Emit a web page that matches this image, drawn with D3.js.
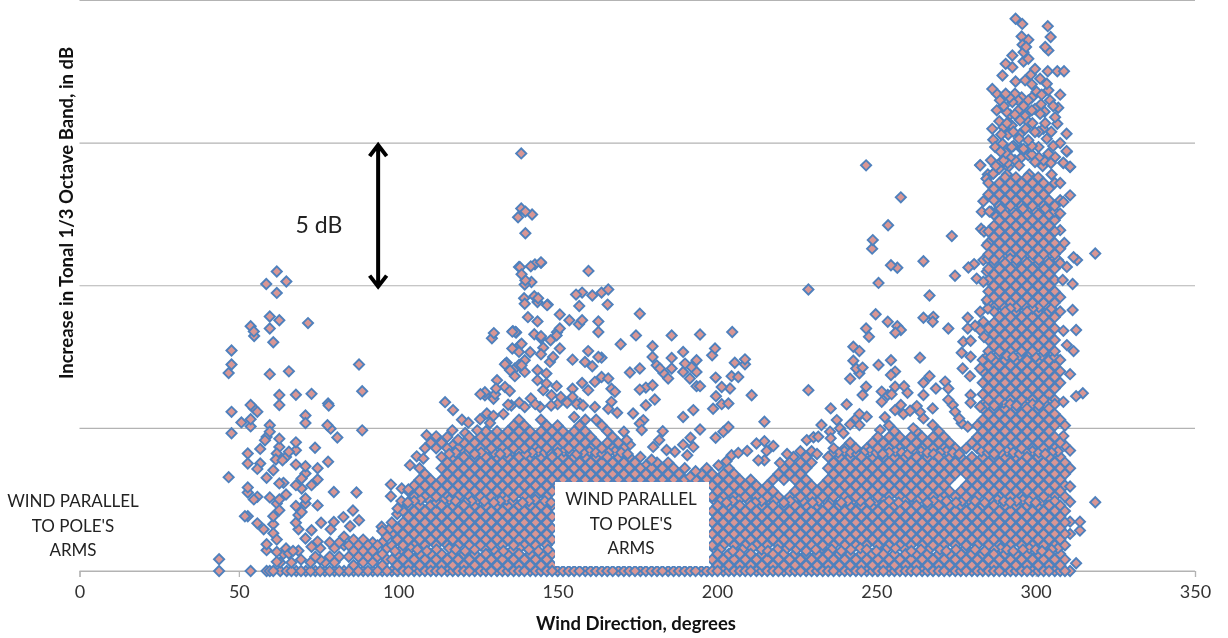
<!DOCTYPE html>
<html>
<head>
<meta charset="utf-8">
<script src="https://cdn.jsdelivr.net/npm/d3@7"></script>
<style>
	html, body { margin: 0; padding: 0; background: #fff; overflow: hidden; }
	text { font-family: Lato, "Open Sans", sans-serif; }
	svg { filter: blur(0.45px); }
</style>
</head>
<body>
<div id="chart"></div>
<script>
var xTicks = [0, 50, 100, 150, 200, 250, 300, 350];
var gridLevels = [0, 5, 10, 15, 20];
var noteLines = ["WIND PARALLEL", "TO POLE'S", "ARMS"];

// loose points read one by one, [direction, dB]
var sparse40to100 = [[61.9,10.5],[58.6,10.06],[64.9,10.15],[61.9,9.75],[59.7,8.92],[62.7,8.79],[71.7,8.69],[53.7,8.58],[54.7,8.4],[54.8,8.24],[59.7,8.5],[60.8,8.02],[47.7,7.73],[47.7,7.24],[46.8,6.94],[59.7,6.9],[65.7,7],[87.7,7.24],[88.7,6.3],[62.7,6.17],[67.9,6.18],[72.8,6.21],[62.7,5.82],[53.7,5.82],[78,5.87],[78.2,5.8],[47.7,5.58],[55.8,5.58],[54.7,5.7],[70.9,5.45],[53.7,5.32],[50.8,5.21],[70.9,5.19],[53.7,5.07],[59.7,5.11],[77.8,5.11],[78.8,4.99],[88.7,4.93],[47.7,4.83],[59.7,4.88],[58.7,4.7],[58.2,4.58],[62.7,4.64],[80.9,4.68],[67.9,4.51],[62.7,4.35],[56.7,4.28],[73.9,4.32],[67.9,4.23],[61.9,4.12],[52.8,4.12],[65.7,4.18],[64.8,4],[61.6,3.91],[63.7,3.88],[52.8,3.77],[56.7,3.77],[55.8,3.58],[67.9,3.73],[70.9,3.67],[78,3.83],[74.7,3.6],[60.8,3.53],[46.8,3.29],[58.7,3.27],[70.9,3.42],[69.7,3.24],[74.7,3.21],[62.7,3.07],[64,3.09],[67.9,3.01],[72.8,3.01],[69.7,2.89],[52.8,2.93],[52.8,2.75],[79.8,2.77],[86.9,2.75],[64.8,2.68],[55.8,2.6],[54.7,2.51],[59.7,2.58],[62.7,2.51],[61.9,2.37],[70.9,2.54],[70.9,2.37],[67.9,2.28],[74.7,2.3],[62.7,2.13],[69.7,2.07],[68.7,1.96],[60.8,1.92],[51.9,1.92],[52.8,1.92],[85.8,2.12],[82.8,1.89],[87.7,1.78],[55.8,1.67],[60.8,1.64],[67.9,1.69],[75.8,1.69],[79.8,1.72],[84.9,1.57],[57.8,1.46],[68.7,1.46],[72.8,1.43],[78.8,1.46],[60.8,1.32],[61.9,1.1],[70.9,1.14],[58.7,.94],[74.7,1.03],[72.8,.85],[58.7,.73],[64.8,.79],[68.7,.71],[61.9,.67],[65.7,.61],[43.8,.41],[61.9,.32],[43.8,0],[53.7,0],[58.7,0],[59.7,0],[60.8,0],[63,0],[64,.6],[67,.7],[63,.3]];

var sparse100to137 = [[138.6,14.64],[138.6,12.71],[142,12.5],[137.6,12.4],[139.9,12.6],[139.9,11.84],[144.8,10.82],[142.9,10.75],[138.2,10.65],[139.9,10.19],[139.5,9.56],[143.9,9.56],[146.7,9.32],[140.7,8.9],[130,8.34],[129.4,8.16],[136,8.41],[137,8.36],[144.8,8.16],[149.8,8.37],[138.2,7.92],[141.4,7.67],[133.5,7.25],[137.9,7.22],[135.1,7.04],[127.2,6.27],[130.4,6.2],[125.8,6.2],[114.7,5.92],[117.2,5.64],[131,6.69],[127.2,6.16],[130.7,6.4],[129.9,6.04],[127.8,5.52],[129.9,5.44],[125.7,5.32],[128.8,5.19],[117,4.93],[121,4.84],[124.8,4.93],[108.9,4.76],[111.9,4.72],[105.8,4.02],[103.7,3.71],[107.9,3.94],[97.7,3.03],[97.7,2.62],[99.8,2.19],[101.1,2.89],[103.2,2.86],[94.8,1.55],[97.4,1.49],[133,5.5],[135.5,5.8],[122,5.2],[120,5.3]];

var sparse137to225 = [[137.9,10.66],[141.6,10.68],[144.8,10.8],[138.7,10.4],[139.7,10.04],[141.8,10.13],[159.7,10.52],[155.8,9.69],[157.7,9.76],[160.9,9.66],[163.8,9.76],[165.9,9.87],[142.7,9.63],[139.7,9.37],[143.7,9.43],[146.9,9.34],[156.8,9.29],[165.7,9.34],[150.7,8.99],[175.8,9.02],[143.7,8.75],[153.7,8.79],[157.7,8.79],[156.7,8.65],[162.8,8.75],[150.7,8.5],[162.8,8.38],[135.8,8.39],[136.8,8.38],[142.7,8.3],[144.8,8.23],[147.8,8.09],[149.7,8.26],[174.6,8.26],[185.8,8.26],[194.7,8.29],[204.8,8.38],[169.8,7.95],[138.7,7.97],[135.8,7.8],[145.5,7.83],[150.7,7.8],[179.8,7.88],[199.4,7.8],[189.4,7.68],[137.9,7.68],[144.8,7.6],[159.6,7.71],[198.5,7.56],[148.6,7.5],[162.8,7.5],[179.8,7.5],[185.8,7.47],[163.8,7.48],[154.7,7.41],[158.6,7.33],[147.6,7.33],[160.9,7.18],[134,7.3],[139.7,7.39],[193.6,7.39],[208.8,7.42],[205.6,7.3],[208.8,7.25],[190,7.27],[138.7,7.21],[181.1,7.21],[175.8,7.1],[172.7,6.96],[182.1,7.1],[192,7.15],[185.8,7.1],[136.6,7.1],[139.7,6.98],[143.7,7.04],[183.2,6.94],[189.4,6.98],[193.6,6.98],[136.6,6.83],[146.5,6.92],[199.6,6.78],[206.7,6.8],[204.6,6.83],[184.7,6.75],[191.5,6.75],[143.7,6.69],[161.7,6.63],[163.8,6.8],[165.9,6.75],[157.7,6.59],[133.5,6.45],[146.5,6.57],[149.7,6.48],[193.6,6.48],[194.7,6.48],[201.5,6.45],[204.1,6.4],[175.8,6.36],[177.7,6.43],[179.8,6.51],[166.9,6.39],[154.7,6.39],[159.6,6.34],[135,6.31],[145.5,6.34],[168,6.28],[210.9,6.16],[199.7,6.13],[148.1,6.16],[154.7,6.1],[141.6,6.05],[180.5,6.01],[151,6.1],[166.9,5.93],[177.7,5.81],[192.6,5.64],[198.8,5.69],[201.5,5.85],[203.6,5.87],[157,5.87],[161.7,5.75],[165.9,5.69],[134.5,5.83],[139.7,5.75],[144.5,5.75],[173.7,5.52],[168.7,5.55],[189.4,5.4],[214.9,5.23],[176.9,5.29],[175.8,5.17],[203.6,5.05],[194.7,4.96],[202,4.88],[183,4.9],[176.4,4.94],[170.8,4.88],[199.6,4.67],[171.7,4.59],[181.9,4.59],[191.7,4.67],[189.4,4.43],[172.7,4.43],[180,4.35],[192.6,4.35],[212.4,4.47],[214.9,4.55],[217.7,4.38],[215.6,4.21],[213,3.88],[214.9,3.88],[190.7,4.06],[184.2,4.24],[186.8,4.18],[206.7,4.14],[209.5,4.21],[204.6,4.06],[224,4],[219.8,3.79],[222,4.1],[200.5,3.7],[203,3.85]];

var sparse225to285 = [[246.8,14.22],[257.7,13.1],[253.7,12.12],[248.9,11.6],[248.7,11.3],[273.7,11.74],[254.6,10.72],[256.6,10.63],[264.8,10.86],[274.7,10.35],[278.9,10.64],[280.7,10.76],[250.7,10.1],[228.7,9.87],[266.7,9.66],[249.8,9],[253.6,8.74],[264.8,8.88],[267.9,8.91],[267.7,8.74],[272.6,8.5],[246.8,8.5],[256.6,8.58],[257.7,8.45],[256,8.35],[247.7,8.21],[278.7,8.88],[278.7,8.5],[279.6,8.07],[277.3,8.04],[242.8,7.86],[244.7,7.71],[276.8,7.65],[279.6,7.51],[263.7,7.48],[254.6,7.39],[242.8,7.37],[250.7,7.22],[245.7,7.13],[243.7,7.1],[244.7,6.93],[241.8,6.74],[254.6,6.87],[255.9,6.99],[266.7,6.83],[264.8,6.6],[271.6,6.64],[277.1,7.1],[279.4,6.83],[282.6,7.1],[246.8,6.46],[255.9,6.46],[258.7,6.48],[268.7,6.4],[272.6,6.4],[228.7,6.34],[251.7,6.29],[254.8,6.2],[253.6,6.17],[259.8,6.25],[245.7,6.17],[264.8,6.17],[279.6,6.17],[251.7,5.93],[257.7,5.82],[240.7,5.84],[235.7,5.7],[262.7,5.78],[267.7,5.7],[272.6,6],[274,5.82],[279.6,5.9],[255.9,5.64],[263.7,5.58],[274.7,5.58],[282.6,5.76],[244.7,5.5],[247,5.41],[260.6,5.62],[258.5,5.5],[252.7,5.39],[264.8,5.35],[237.6,5.29],[243.7,5.35],[276,5.35],[232.8,5.12],[241.8,5.14],[267.7,5.12],[244.7,5.12],[276.8,5.18],[278.7,5.06],[235.5,4.88],[238.6,5],[251.2,4.94],[261.6,5],[228.2,4.59],[230.3,4.69],[231.8,4.71],[235.7,4.65],[239.7,4.83]];

var sparseTowerEdges = [[318.7,11.13],[318.7,2.41],[311.9,11],[309.8,10.66],[313,10.9],[311.6,10.06],[311.6,9.15],[312.7,8.45],[308.7,8.42],[309.8,7.92],[311.9,7.71],[310.8,6.9],[314.8,6.23],[312.7,6.13],[308.7,5.93],[308.7,4.73],[310.8,4.22],[310.8,3.6],[310.8,2.96],[310.8,2.43],[310.8,1.73],[313.9,1.73],[313.9,1.42],[310.8,1.3],[312.7,.27],[310.8,0],[310.8,13.17],[308.7,12.94],[310.8,14.17],[308.7,14.3],[309.8,14.7],[307.7,13.6],[307.7,11.95],[307.7,12.53],[309,11.5],[308.5,10.2],[282.6,14.22],[284.7,13.76],[286.7,13.93],[283.6,12.96],[283.1,12.59],[285.5,12.6],[282.9,12],[283.8,11.9],[284.7,11.42],[283.6,10.9],[284.7,10.5],[281.5,10.25],[283.6,10.14],[284.7,9.5],[282.6,9.09],[283.6,8.74],[282.6,8.45],[283.8,8.2],[281,8.6]];

var towerTop = [[293.7,19.36],[295.8,19.18],[303.8,19.1],[295.6,18.74],[304.7,18.72],[297.7,18.62],[295.9,18.45],[297,18.37],[303,18.37],[304,18.25],[292.7,18.07],[296.2,18.19],[297.7,17.96],[296.2,17.86],[290.6,17.78],[292.7,17.66],[299.8,17.6],[303.8,17.52],[306.8,17.52],[308.9,17.52],[289.6,17.37],[298.5,17.4],[301.4,17.26],[293.7,17.16],[296.7,17.2],[298.8,17.06],[303.5,17.08],[286.4,16.9],[287.8,16.73],[290.6,16.73],[293.5,16.73],[295.6,16.6],[298.8,16.6],[301.9,16.7],[304,16.85],[307.7,16.7],[292.7,16.44],[297.7,16.5],[304.5,16.5],[287.8,16.15],[290.9,16.09],[294.9,16.18],[298.8,16.15],[301.7,16.36],[307.1,16.24],[296.7,15.95],[293.5,16],[301.4,16.03],[306.1,15.91],[288.6,15.77],[292.5,15.62],[297.7,15.74],[295.1,15.8],[306.8,15.68],[302.4,15.5],[286.4,15.5],[289.9,15.56],[309.7,15.33],[291.4,15.3],[299.8,15.39],[286.7,15.12],[294.8,15.15],[297.7,15.1],[303.5,15.15],[307.7,15],[289.6,14.98],[300.9,14.86],[287.3,14.86],[292.5,14.86],[296.2,14.8],[309.7,14.72],[290.6,14.65],[297.7,14.57],[304,14.63],[306.1,14.51],[282.6,14.23],[308.7,14.31],[310.8,14.16],[294.8,14.22],[299.8,14.34],[291.4,14.16],[286.7,13.93],[284.6,13.75],[288.7,14.3],[302.2,14.2],
	[288.5,14.1],[290,14.4],[292,14.5],[293.5,14.4],[295.5,14.5],[298.8,14.6],[301,14.5],[302.5,14.4],[304.8,14.3],[287.5,14.2],[289.2,15.3],[291,15.7],[293,15.4],[295,15.3],[296.8,15.5],[299,15.7],[301,15.4],[303,15.7],[304.9,15.4],[290,16.3],[292,16],[294.5,16.5],[296.2,16.3],[299.8,16.2],[302.8,16.1],[305.5,16.3],[288.8,16.5],[291.8,16.6],[300.3,16.8],[293,14.9],[295.5,14.8],[298.8,14.9],[305.5,14.9],[291.2,14.3],[289,14.7],[286,14.4]];

// packed areas, one column per entry: direction then the dB values in it
var columnsLow = [[65,0],[66.5,0,.3],[68,0],[69.5,0,.4],[71,0],[72.5,0,.3],[74,0,.5],[75.5,0,.4,.8],[77,0,.3],[78.5,0,.5,1],[80,0,.3,.8],[81.5,0,.5,1],[83,0,.9,1.2],[84.5,0,.5,.9],[86,0,.2,.7,1.1],[87.5,0,.5,.9],[89,0,.3,.7,1.1],[90.5,0,.5,.9],[92,0,.3,.7,1],[93.5,0,.5,.9],[95,0,.2,.6,1,1.4],[96.5,0,.4,.8,1.2]];

var columns98to148 = [
	[98,0,.4,.9,1.3,1.7],
	[99.7,0,.2,.6,1.1,1.5,2],
	[101.5,0,.4,.9,1.3,1.7,2.1],
	[103.2,0,.2,.6,1.1,1.5,1.9,2.3,2.8],
	[105,0,.4,.9,1.3,1.7,2.1,2.6,3],
	[106.7,0,.2,.6,1.1,1.5,1.9,2.3,2.8,3.2,3.6],
	[108.4,0,.4,.9,1.3,1.7,2.1,2.6,3,3.4,4.3],
	[110.2,0,.2,.6,1.1,1.5,1.9,2.3,2.8,3.2,4.5],
	[111.9,0,.4,.9,1.3,1.7,2.1,2.6,3,4.3],
	[113.6,0,.2,.6,1.1,1.5,1.9,2.3,2.8,3.2,3.6,4,4.5],
	[115.4,0,.4,.9,1.3,1.7,2.1,2.6,3,3.4,3.8,4.3,4.7],
	[117.1,0,.2,.6,1.1,1.5,1.9,2.3,2.8,3.2,3.6,4,4.4],
	[118.8,0,.4,.9,1.3,1.7,2.1,2.6,3,3.4,3.8,4.3,4.6],
	[120.6,0,.2,.6,1.1,1.5,1.9,2.3,2.8,3.2,3.6,4,4.5],
	[122.3,0,.4,.9,1.3,1.7,2.1,2.6,3,3.4,3.8,4.3,4.7],
	[124,0,.2,.6,1.1,1.5,1.9,2.3,2.8,3.2,3.6,4,4.5],
	[125.8,0,.4,.9,1.3,1.7,2.1,2.6,3,3.4,3.8,4.3,4.7],
	[127.5,0,.2,.6,1.1,1.5,1.9,2.3,2.8,3.2,3.6,4,4.5,4.9],
	[129.2,0,.4,.9,1.3,1.7,2.1,2.6,3,3.4,3.8,4.3,4.7],
	[131,0,.2,.6,1.1,1.5,1.9,2.3,2.8,3.2,3.6,4,4.5,4.9],
	[132.7,0,.4,.9,1.3,1.7,2.1,2.6,3,3.4,3.8,4.3,4.7],
	[134.4,0,.2,.6,1.1,1.5,1.9,2.3,2.8,3.2,3.6,4,4.5,4.9],
	[136.2,0,.4,.9,1.3,1.7,2.1,2.6,3,3.4,3.8,4.3,4.7,5.1],
	[137.9,0,.2,.6,1.1,1.5,1.9,2.3,2.8,3.2,3.6,4,4.5,4.9,5.3],
	[139.6,0,.4,.9,1.3,1.7,2.1,2.6,3,3.4,3.8,4.3,4.7,5.1],
	[141.4,0,.2,.6,1.1,1.5,1.9,2.3,2.8,3.2,3.6,4,4.5,4.9],
	[143.1,0,.4,.9,1.3,1.7,2.1,2.6,3,3.4,3.8,4.3,4.7],
	[144.8,0,.2,.6,1.1,1.5,1.9,2.3,2.8,3.2,3.6,4,4.5,4.9,5.3],
	[146.6,0,.4,.9,1.3,1.7,2.1,2.6,3,3.4,3.8,4.3,4.7,5.1],
	[148.3,0,.2,.6,1.1,1.5,1.9,2.3,2.8,3.2,3.6,4,4.5,4.9]
];

// only what shows above and below the white note box
var columnsAboveBox = [
	[150,0,3,3.4,3.8,4.3,4.7,5.1],
	[151.7,0,3.2,3.6,4,4.5,4.9],
	[153.5,0,3,3.4,3.8,4.3,4.7],
	[155.2,0,3.2,3.6,4,4.5,4.9,5.4],
	[156.9,0,3,3.4,3.8,4.3,4.7,5.1],
	[158.7,0,3.2,3.6,4,4.5,4.9,5.3],
	[160.4,0,3,3.4,3.8,4.3,4.7],
	[162.1,0,3.2,3.6,4,4.5,5.3],
	[163.9,0,3,3.4,3.8,4.3,5.1],
	[165.6,0,3.2,3.6,4,4.5,4.9],
	[167.3,0,3,3.4,3.8,4.3,4.7],
	[169.1,0,3.2,3.6,4,4.5],
	[170.8,0,3,3.4,3.8,4.3],
	[172.5,0,3.2,3.6,4],
	[174.3,0,3,3.4,3.8],
	[176,0,3.2,3.6,4],
	[177.7,0,3,3.4,3.7],
	[179.5,0,3.2,3.6,3.9],
	[181.2,0,3,3.4,3.8],
	[182.9,0,3.2,3.6],
	[184.7,0,3,3.4,3.8],
	[186.4,0,3.2,3.6],
	[188.1,0,3,3.4],
	[189.9,0,3.2,3.6],
	[191.6,0,3,3.3],
	[193.3,0,3.2,3.5],
	[195.1,0,3,3.4],
	[196.8,0,3.2,3.6]
];

var columns198to284 = [
	[198.5,0,.4,.9,1.3,1.7,2.1,2.6,3,3.4],
	[200.2,0,.2,.6,1.1,1.5,1.9,2.3,2.8,3.2],
	[202,0,.4,.9,1.3,1.7,2.1,2.6,3,3.4],
	[203.7,0,.2,.6,1.1,1.5,1.9,2.3,2.8,3.2,3.6],
	[205.4,0,.4,.9,1.3,1.7,2.1,2.6,3,3.4],
	[207.2,0,.2,.6,1.1,1.5,1.9,2.3,2.8,3.2],
	[208.9,0,.4,.9,1.3,1.7,2.1,2.6,3],
	[210.6,0,.2,.6,1.1,1.5,1.9,2.3,2.8,3.2],
	[212.4,0,.4,.9,1.3,1.7,2.1,2.6,3],
	[214.1,0,.2,.6,1.1,1.5,1.9,2.3,2.8],
	[215.8,0,.4,.9,1.3,1.7,2.1,2.6,3],
	[217.6,0,.2,.6,1.1,1.5,1.9,2.3,2.8,3.2],
	[219.3,0,.4,.9,1.3,1.7,2.1,2.6,3.4],
	[221,0,.2,.6,1.1,1.5,1.9,2.3,3.2,3.6],
	[222.8,0,.4,.9,1.3,1.7,2.1,2.6,3.4,3.8],
	[224.5,0,.2,.6,1.1,1.5,1.9,2.3,2.8,3.2,3.6],
	[226.2,0,.4,.9,1.3,1.7,2.1,2.6,3,3.4,3.8,4.2],
	[228,0,.2,.6,1.1,1.5,1.9,2.3,2.8,3.2,3.6,4],
	[229.7,0,.4,.9,1.3,1.7,2.1,2.6,3,3.8,4.2],
	[231.4,0,.2,.6,1.1,1.5,1.9,2.3,2.8,4.1],
	[233.2,0,.4,.9,1.3,1.7,2.1,2.6,3],
	[234.9,0,.2,.6,1.1,1.5,1.9,2.3,2.8,3.2,3.6,4],
	[236.6,0,.4,.9,1.3,1.7,2.1,2.6,3,3.4,3.8,4.3],
	[238.4,0,.2,.6,1.1,1.5,1.9,2.3,2.8,3.2,3.6,4],
	[240.1,0,.4,.9,1.3,1.7,2.1,2.6,3,3.4,3.8,4.3],
	[241.8,0,.2,.6,1.1,1.5,1.9,2.3,2.8,3.2,3.6,4,4.5],
	[243.6,0,.4,.9,1.3,1.7,2.1,2.6,3,3.4,3.8,4.3],
	[245.3,0,.2,.6,1.1,1.5,1.9,2.3,2.8,3.2,3.6,4],
	[247,0,.4,.9,1.3,1.7,2.1,2.6,3,3.4,3.8,4.3],
	[248.8,0,.2,.6,1.1,1.5,1.9,2.3,2.8,3.2,3.6,4,4.5],
	[250.5,0,.4,.9,1.3,1.7,2.1,2.6,3,3.4,3.8,4.3,4.7],
	[252.2,0,.2,.6,1.1,1.5,1.9,2.3,2.8,3.2,3.6,4,4.5],
	[254,0,.4,.9,1.3,1.7,2.1,2.6,3,3.4,3.8,4.3,4.7,5.1],
	[255.7,0,.2,.6,1.1,1.5,1.9,2.3,2.8,3.2,3.6,4,4.5,4.9],
	[257.4,0,.4,.9,1.3,1.7,2.1,2.6,3,3.4,3.8,4.3,4.7],
	[259.2,0,.2,.6,1.1,1.5,1.9,2.3,2.8,3.2,3.6,4,4.5],
	[260.9,0,.4,.9,1.3,1.7,2.1,2.6,3,3.4,3.8,4.3,4.7],
	[262.6,0,.2,.6,1.1,1.5,1.9,2.3,2.8,3.2,3.6,4,4.5,4.9],
	[264.4,0,.4,.9,1.3,1.7,2.1,2.6,3,3.4,3.8,4.3,4.7],
	[266.1,0,.2,.6,1.1,1.5,1.9,2.3,2.8,3.2,3.6,4,4.5],
	[267.8,0,.4,.9,1.3,1.7,2.1,2.6,3,3.4,3.8,4.3,4.7],
	[269.6,0,.2,.6,1.1,1.5,1.9,2.3,2.8,3.2,3.6,4,4.5,4.9],
	[271.3,0,.4,.9,1.3,1.7,2.1,2.6,3,3.4,3.8,4.3,4.7],
	[273,0,.2,.6,1.1,1.5,1.9,2.3,2.8,3.2,3.6,4,4.5],
	[274.8,0,.4,.9,1.3,1.7,2.1,2.6,3.4,3.8,4.3],
	[276.5,0,.2,.6,1.1,1.5,1.9,2.3,2.8,3.6,4],
	[278.2,0,.4,.9,1.3,1.7,2.1,2.6,3,3.4,3.8,4.3],
	[280,0,.2,.6,1.1,1.5,1.9,2.3,2.8,3.2,3.6,4,4.5],
	[281.7,0,.4,.9,1.3,1.7,2.1,2.6,3,3.4,3.8,4.3,4.7,5.1],
	[283.4,0,.2,.6,1.1,1.5,1.9,2.3,2.8,3.2,3.6,4,4.5,4.9,5.3,5.7,6.2,6.6,7,7.4]
];

var columnsTower = [
	[285.2,0,.4,.9,1.3,1.7,2.1,2.6,3,3.4,3.8,4.3,4.7,5.1,5.5,6,6.4,6.8,7.2,7.7,8.1,8.5,9.4,9.8,10.2,10.6,11.1,11.5,11.9,13.2,13.6],
	[286.9,0,.2,.6,1.1,1.5,1.9,2.3,2.8,3.2,3.6,4,4.5,4.9,5.3,5.7,6.2,6.6,7,7.4,7.9,8.3,8.7,9.1,9.6,10,10.4,10.8,11.3,11.7,12.1,12.5,13,13.4],
	[288.6,0,.4,.9,1.3,1.7,2.1,2.6,3,3.4,3.8,4.3,4.7,5.1,5.5,6,6.4,6.8,7.2,7.7,8.1,8.5,8.9,9.4,9.8,10.2,10.6,11.1,11.5,11.9,12.3,12.8,13.2,13.6],
	[290.4,0,.2,.6,1.1,1.5,1.9,2.3,2.8,3.2,3.6,4,4.5,4.9,5.3,5.7,6.2,6.6,7,7.4,7.9,8.3,8.7,9.1,9.6,10,10.4,10.8,11.3,11.7,12.1,12.5,13,13.4,13.8],
	[292.1,0,.4,.9,1.3,1.7,2.1,2.6,3,3.4,3.8,4.3,4.7,5.1,5.5,6,6.4,6.8,7.2,7.7,8.1,8.5,8.9,9.4,9.8,10.2,10.6,11.1,11.5,11.9,12.3,12.8,13.2,13.6],
	[293.8,0,.2,.6,1.1,1.5,1.9,2.3,2.8,3.2,3.6,4,4.5,4.9,5.3,5.7,6.2,6.6,7,7.4,7.9,8.3,8.7,9.1,9.6,10,10.4,10.8,11.3,11.7,12.1,12.5,13,13.4,13.8],
	[295.6,0,.4,.9,1.3,1.7,2.1,2.6,3,3.4,3.8,4.3,4.7,5.1,5.5,6,6.4,6.8,7.2,7.7,8.1,8.5,8.9,9.4,9.8,10.2,10.6,11.1,11.5,11.9,12.3,12.8,13.2,13.6],
	[297.3,0,.2,.6,1.1,1.5,1.9,2.3,2.8,3.2,3.6,4,4.5,4.9,5.3,5.7,6.2,6.6,7,7.4,7.9,8.3,8.7,9.1,9.6,10,10.4,10.8,11.3,11.7,12.1,12.5,13,13.4,13.8],
	[299,0,.4,.9,1.3,1.7,2.1,2.6,3,3.4,3.8,4.3,4.7,5.1,5.5,6,6.4,6.8,7.2,7.7,8.1,8.5,8.9,9.4,9.8,10.2,10.6,11.1,11.5,11.9,12.3,12.8,13.2,13.6],
	[300.8,0,.2,.6,1.1,1.5,1.9,2.3,2.8,3.2,3.6,4,4.5,4.9,5.3,5.7,6.2,6.6,7,7.4,7.9,8.3,8.7,9.1,9.6,10,10.4,10.8,11.3,11.7,12.1,12.5,13,13.4,13.8],
	[302.5,0,.4,.9,1.3,1.7,2.1,2.6,3,3.4,3.8,4.3,4.7,5.1,5.5,6,6.4,6.8,7.2,7.7,8.1,8.5,8.9,9.4,9.8,10.2,10.6,11.1,11.5,11.9,12.3,12.8,13.2,13.6],
	[304.2,0,.2,.6,1.1,1.5,1.9,2.3,2.8,3.2,3.6,4,4.5,4.9,5.3,5.7,6.2,6.6,7,7.4,7.9,8.3,8.7,9.1,9.6,10,10.4,10.8,11.3,11.7,12.1,12.5,13,13.4],
	[306,0,.4,.9,1.3,1.7,2.1,2.6,3,3.4,3.8,4.3,4.7,5.1,5.5,6,6.4,6.8,7.2,7.7,8.1,8.5,8.9,9.4,9.8,10.2,10.6,11.1,11.5,11.9,12.3,12.8,13.6],
	[307.7,0,.2,.6,1.1,1.5,1.9,2.3,2.8,3.2,3.6,4,4.5,5.3,6.6,7,7.4,9.1,9.6,10.8,11.3,13],
	[309.2,0,.4,.9,1.3,1.7,2.1,2.6,3,3.4,3.8,4.4,5.1]
];

// extra rows through the packed areas: dB then the directions at that level
var rowsBetween = [
	[.7,99,109,121,133,144,205,216,228,239,250,261,272,284,293,302],
	[.8,104,116,127,138,199,211,222,233,245,256,267,278,289,298,307],
	[.75,101,106,112,118,124,130,136,141,147,201,208,214,219,225,231,236,242,247,253,259,264,270,275,281,287,291,296,300,305],
	[2.4,103,112,121,130,139,148,203,212,221,230,239,248,257,266,275,284,292,300],
	[2.5,107,116,125,134,143,199,207,216,225,234,243,252,261,270,279,288,296,304],
	[2.45,101,105,110,114,118,123,127,132,136,141,146,201,205,210,214,218,223,227,232,236,241,245,250,254,259,263,268,272,277,281,286,290,294,298,302,306],
	[4.1,116,124,132,140,148,156,164,172,236,244,252,260,268,276,287,295,303],
	[4.2,120,128,136,144,152,160,168,240,248,256,264,272,283,291,299,307],
	[4.15,118,122,126,130,134,138,142,146,150,154,158,162,166,170,238,242,246,250,254,258,262,266,270,274,285,289,293,297,301,305],
	[5.8,148,158,287,294,301],
	[5.9,138,153,284,290,297,304],
	[5.85,143,150,156,285,288,292,296,299,303,306],
	[7.5,286,293,300,306],
	[7.6,289,296,303],
	[7.55,285,288,291,295,298,302,305],
	[9.2,285,292,299,305],
	[9.3,288,295,302],
	[9.25,287,290,294,297,301,304],
	[10.9,287,294,301,307],
	[11,290,297,304],
	[10.95,285,289,292,296,299,303,306],
	[12.6,286,293,300,306],
	[12.7,289,296,303],
	[12.65,288,291,295,298,302,305],
	[13.9,285,291,298,305]
];

var points = [];
[sparse40to100, sparse100to137, sparse137to225, sparse225to285, sparseTowerEdges, towerTop].forEach(function(list) {
	list.forEach(function(p) { points.push({dir: p[0], db: p[1]}); });
});
[columnsLow, columns98to148, columnsAboveBox, columns198to284, columnsTower].forEach(function(list) {
	list.forEach(function(col) {
		col.slice(1).forEach(function(v) { points.push({dir: col[0], db: v}); });
	});
});
rowsBetween.forEach(function(row) {
	row.slice(1).forEach(function(v) { points.push({dir: v, db: row[0]}); });
});

// the original series is in time order, not space order, so mix who lands on top
points.sort(function(a, b) {
	return ((a.dir * 13 + a.db * 37) % 1) - ((b.dir * 13 + b.db * 37) % 1);
});

var width = 1228, height = 638;
var x = d3.scaleLinear().domain([0, 350]).range([79.5, 1195]);
var y = d3.scaleLinear().domain([0, 20]).range([571, 0.5]);

var svg = d3.select("#chart").append("svg")
	.attr("width", width)
	.attr("height", height)
	.style("display", "block");

// grid lines
svg.append("g").selectAll("line")
	.data(gridLevels)
	.enter().append("line")
	.attr("x1", x(0))
	.attr("x2", x(350))
	.attr("y1", function(d) { return y(d); })
	.attr("y2", function(d) { return y(d); })
	.style("stroke", "#b3b3b3")
	.style("stroke-width", 1.2);

var xAxis = svg.append("g")
	.attr("transform", "translate(0," + y(0) + ")")
	.call(d3.axisBottom(x).tickValues(xTicks).tickSize(6).tickPadding(8).tickFormat(d3.format("d")));
xAxis.select(".domain").style("stroke", "#b3b3b3").style("stroke-width", 1.2);
xAxis.selectAll("line").style("stroke", "#b3b3b3").style("stroke-width", 1.2);
xAxis.selectAll("text")
	.style("font-family", "Lato")
	.style("font-size", "18px")
	.style("fill", "#333");

// markers
var diamond = d3.symbol().type(d3.symbolSquare).size(52);
svg.append("g").selectAll("path")
	.data(points)
	.enter().append("path")
	.attr("d", diamond)
	.attr("transform", function(d) { return "translate(" + x(d.dir) + "," + y(d.db) + ") rotate(45)"; })
	.style("fill", "#d99694")
	.style("stroke", "#4f81bd")
	.style("stroke-width", 1.9);

// white note box sitting on the markers
svg.append("rect")
	.attr("x", 555)
	.attr("y", 482)
	.attr("width", 154)
	.attr("height", 84)
	.style("fill", "#fff");

function note(cx, top) {
	svg.append("g").selectAll("text")
		.data(noteLines)
		.enter().append("text")
		.attr("x", cx)
		.attr("y", function(d, i) { return top + i * 24.5; })
		.attr("text-anchor", "middle")
		.style("font-size", "17px")
		.style("fill", "#222")
		.text(function(d) { return d; });
}
note(73, 507);
note(631, 505);

// 5 dB arrow
var arrowX = x(93.7);
var arrowTop = y(15), arrowBottom = y(9.9);
svg.append("path")
	.attr("d", "M" + arrowX + "," + (arrowTop + 1) + "V" + (arrowBottom - 1)
		+ "M" + (arrowX - 8.5) + "," + (arrowTop + 13) + "L" + arrowX + "," + (arrowTop + 2) + "L" + (arrowX + 8.5) + "," + (arrowTop + 13)
		+ "M" + (arrowX - 8.5) + "," + (arrowBottom - 13) + "L" + arrowX + "," + (arrowBottom - 2) + "L" + (arrowX + 8.5) + "," + (arrowBottom - 13))
	.style("fill", "none")
	.style("stroke", "#000")
	.style("stroke-width", 4);

svg.append("text")
	.attr("x", 319)
	.attr("y", 233)
	.attr("text-anchor", "middle")
	.style("font-size", "23px")
	.style("fill", "#222")
	.text("5 dB");

svg.append("text")
	.attr("x", 636)
	.attr("y", 630)
	.attr("text-anchor", "middle")
	.style("font-size", "18.5px")
	.style("font-weight", "bold")
	.style("fill", "#111")
	.text("Wind Direction, degrees");

svg.append("text")
	.attr("transform", "translate(73,213) rotate(-90)")
	.attr("text-anchor", "middle")
	.style("font-size", "18.5px")
	.style("font-weight", "bold")
	.style("fill", "#111")
	.text("Increase in Tonal 1/3 Octave Band, in dB");
</script>
</body>
</html>
